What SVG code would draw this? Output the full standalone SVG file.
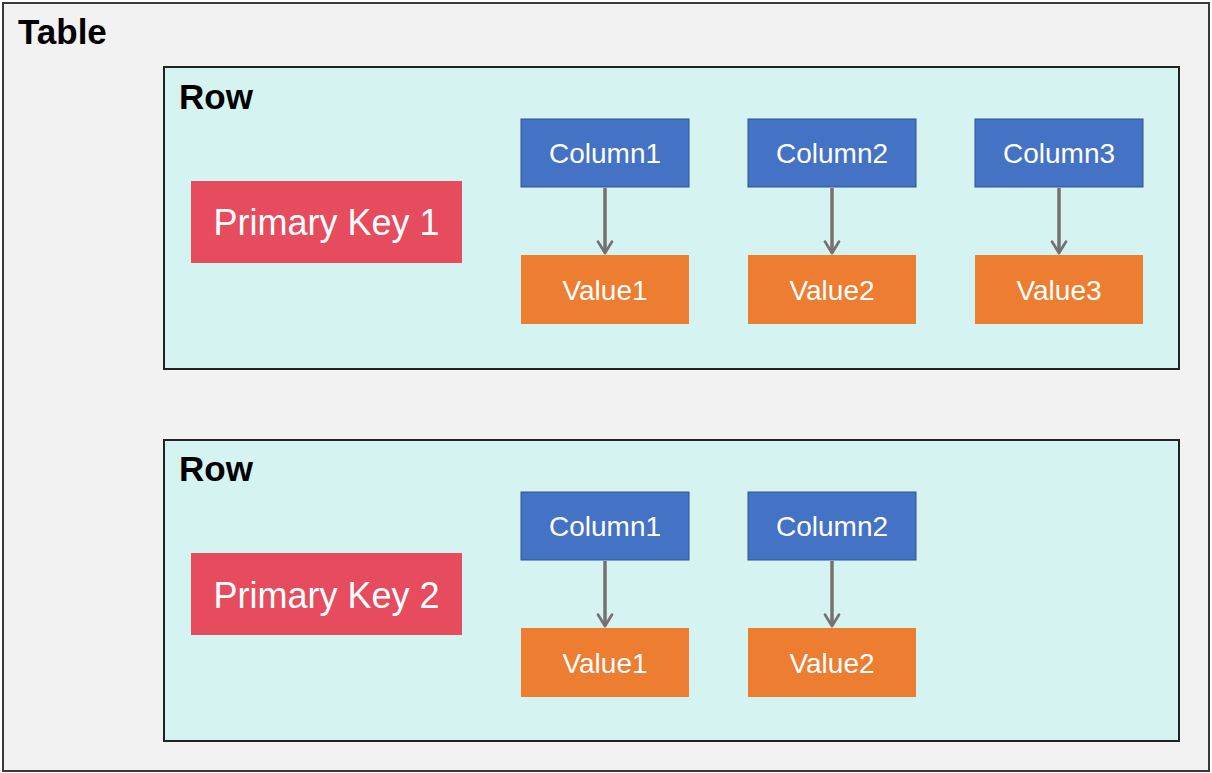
<svg xmlns="http://www.w3.org/2000/svg" width="1212" height="773" viewBox="0 0 1212 773">
<style>
.title{font-family:"Liberation Sans",Arial,sans-serif;font-weight:bold;font-size:35px;fill:#000}
.pk{fill:#E64C5E}
.col{fill:#4472C4;stroke:#2F528F;stroke-width:1}
.val{fill:#ED7D31}
.lbl{font-family:"Liberation Sans",Arial,sans-serif;fill:#fff;text-anchor:middle;dominant-baseline:central}
.pkt{font-size:36px}
.ct{font-size:28px}
.row{fill:#D5F3F0;stroke:#222;stroke-width:2}
.conn{stroke:#767171;stroke-width:3.5;fill:none}
</style>
<defs>
<marker id="arr" viewBox="0 0 10 10" refX="8" refY="5" markerWidth="5" markerHeight="5" orient="auto" markerUnits="strokeWidth">
<path d="M1.5,1 L8,5 L1.5,9" fill="none" stroke="#767171" stroke-width="1.6" stroke-linecap="round" stroke-linejoin="round"/>
</marker>
</defs>
<g id="table">
<rect x="3" y="3" width="1206" height="768" fill="#F2F2F2" stroke="#3a3a3a" stroke-width="2"/>
<text class="title" x="18" y="44">Table</text>
</g>
<g id="row1">
<rect class="row" x="164" y="67" width="1015" height="302"/>
<text class="title" x="179" y="109">Row</text>
</g>
<g id="row2">
<rect class="row" x="164" y="440" width="1015" height="301"/>
<text class="title" x="179" y="481">Row</text>
</g>
<g id="pk1"><rect class="pk" x="191" y="181" width="271" height="82"/><text class="lbl pkt" x="326.5" y="222">Primary Key 1</text></g>
<g id="r1c1"><rect class="col" x="521" y="119" width="168" height="68"/><text class="lbl ct" x="605" y="153">Column1</text></g>
<g id="r1c2"><rect class="col" x="748" y="119" width="168" height="68"/><text class="lbl ct" x="832" y="153">Column2</text></g>
<g id="r1c3"><rect class="col" x="975" y="119" width="168" height="68"/><text class="lbl ct" x="1059" y="153">Column3</text></g>
<g id="r1v1"><rect class="val" x="521" y="255" width="168" height="69"/><text class="lbl ct" x="605" y="290">Value1</text></g>
<g id="r1v2"><rect class="val" x="748" y="255" width="168" height="69"/><text class="lbl ct" x="832" y="290">Value2</text></g>
<g id="r1v3"><rect class="val" x="975" y="255" width="168" height="69"/><text class="lbl ct" x="1059" y="290">Value3</text></g>
<g id="pk2"><rect class="pk" x="191" y="553" width="271" height="82"/><text class="lbl pkt" x="326.5" y="595">Primary Key 2</text></g>
<g id="r2c1"><rect class="col" x="521" y="492" width="168" height="68"/><text class="lbl ct" x="605" y="526">Column1</text></g>
<g id="r2c2"><rect class="col" x="748" y="492" width="168" height="68"/><text class="lbl ct" x="832" y="526">Column2</text></g>
<g id="r2v1"><rect class="val" x="521" y="628" width="168" height="69"/><text class="lbl ct" x="605" y="663">Value1</text></g>
<g id="r2v2"><rect class="val" x="748" y="628" width="168" height="69"/><text class="lbl ct" x="832" y="663">Value2</text></g>
<g id="connectors">
<line class="conn" x1="605" y1="188" x2="605" y2="253" marker-end="url(#arr)"/>
<line class="conn" x1="832" y1="188" x2="832" y2="253" marker-end="url(#arr)"/>
<line class="conn" x1="1059" y1="188" x2="1059" y2="253" marker-end="url(#arr)"/>
<line class="conn" x1="605" y1="561" x2="605" y2="626" marker-end="url(#arr)"/>
<line class="conn" x1="832" y1="561" x2="832" y2="626" marker-end="url(#arr)"/>
</g>
</svg>
